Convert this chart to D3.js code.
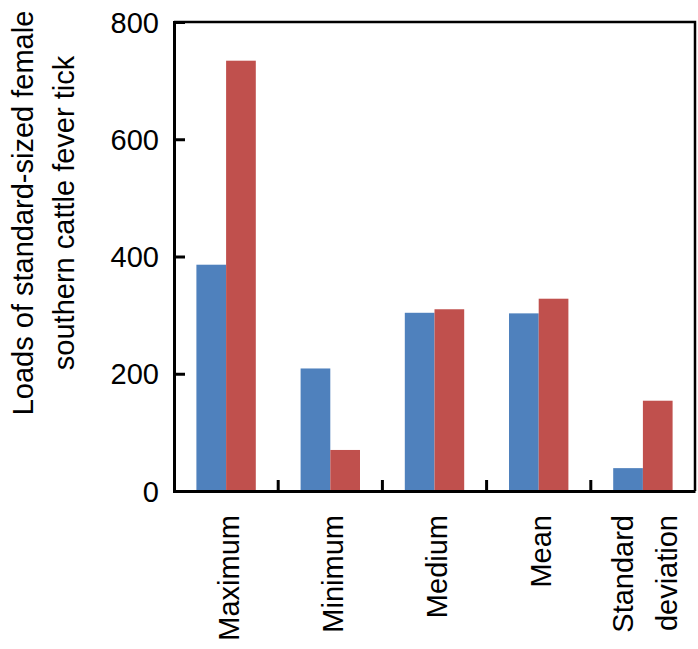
<!DOCTYPE html>
<html>
<head>
<meta charset="utf-8">
<script src="https://cdn.jsdelivr.net/npm/d3@7"></script>
<style>
    body { margin: 0; background: #fff; }
    text { font-family: "Liberation Sans", Arial, sans-serif; fill: #000; }
</style>
</head>
<body>
<div id="chart"></div>
<script>
// values
const categories = ['Maximum', 'Minimum', 'Medium', 'Mean', 'Standard deviation'];
const seriesNames = ['A', 'B'];
const seriesA = [386, 209, 304, 303, 39];
const seriesB = [734, 70, 310, 328, 154];
const yTicks = [0, 200, 400, 600, 800];
const titleLines = ['Loads of standard-sized female', 'southern cattle fever tick'];

const colors = ['#4f81bd', '#c0504d'];

let width = 698;
let height = 649;
let margin = { top: 22, right: 3, bottom: 158, left: 174 };

let data = categories.map((c, i) => ({ cat: c, values: [seriesA[i], seriesB[i]] }));

let svg = d3.select('#chart')
    .append('svg')
    .attr('width', width)
    .attr('height', height);

let xScale = d3.scaleBand()
    .domain(categories)
    .range([margin.left, width - margin.right])
    .paddingInner(0.43)
    .paddingOuter(0.215);

let xInner = d3.scaleBand()
    .domain(seriesNames)
    .range([0, xScale.bandwidth()]);

let yScale = d3.scaleLinear()
    .domain([0, 800])
    .range([height - margin.bottom, margin.top]);

// bars
svg.append('g')
    .selectAll('g')
    .data(data)
    .join('g')
    .attr('transform', d => `translate(${xScale(d.cat)},0)`)
    .selectAll('rect')
    .data(d => d.values.map((v, i) => ({ key: seriesNames[i], v, i })))
    .join('rect')
    .attr('x', d => xInner(d.key))
    .attr('y', d => yScale(d.v))
    .attr('width', xInner.bandwidth())
    .attr('height', d => yScale(0) - yScale(d.v))
    .attr('fill', d => colors[d.i]);

// frame
let x0 = margin.left, x1 = width - margin.right;
let y0 = yScale(800), y1 = yScale(0);
svg.append('path')
    .attr('d', `M${x0},${y0}H${x1}V${y1}`)
    .attr('fill', 'none')
    .attr('stroke', '#000')
    .attr('stroke-width', 2.5);

// y axis
let yAxis = svg.append('g')
    .attr('transform', `translate(${x0},0)`)
    .call(d3.axisLeft(yScale).tickValues(yTicks).tickSize(-11).tickPadding(15).tickFormat(d3.format('d')));
yAxis.select('.domain').attr('stroke-width', 3);
yAxis.selectAll('.tick line').attr('stroke-width', 3);
yAxis.selectAll('.tick text')
    .style('font-size', '29px')
    .attr('dy', '0.35em')
    .attr('x', -15);

// x axis with ticks between categories
let xAxis = svg.append('g')
    .attr('transform', `translate(0,${y1})`)
    .call(d3.axisBottom(xScale).tickSize(0).tickFormat(''));
xAxis.select('.domain').attr('stroke-width', 3);
xAxis.selectAll('.sep')
    .data(categories.slice(1))
    .join('line')
    .attr('class', 'sep')
    .attr('x1', d => xScale(d) - xScale.step() * xScale.paddingInner() / 2)
    .attr('x2', d => xScale(d) - xScale.step() * xScale.paddingInner() / 2)
    .attr('y1', 0)
    .attr('y2', -11)
    .attr('stroke', '#000')
    .attr('stroke-width', 3);

// category labels, rotated
let lab = svg.append('g')
    .selectAll('g')
    .data(categories)
    .join('g')
    .attr('transform', d => `translate(${xScale(d) + xScale.bandwidth() / 2},515)`);
lab.each(function (d) {
    let words = d.split(' ');
    let g = d3.select(this);
    words.forEach((w, i) => {
        g.append('text')
            .attr('transform', `translate(${(i - (words.length - 1) / 2) * 44 + 2},0) rotate(-90)`)
            .attr('text-anchor', 'end')
            .attr('dy', '0.36em')
            .style('font-size', '29px')
            .text(w);
    });
});

// y title
let title = svg.append('g')
    .attr('transform', `translate(0,213)`);
titleLines.forEach((t, i) => {
    title.append('text')
        .attr('transform', `translate(${33 + i * 41},0) rotate(-90)`)
        .attr('text-anchor', 'middle')
        .style('font-size', '29px')
        .text(t);
});
</script>
</body>
</html>
